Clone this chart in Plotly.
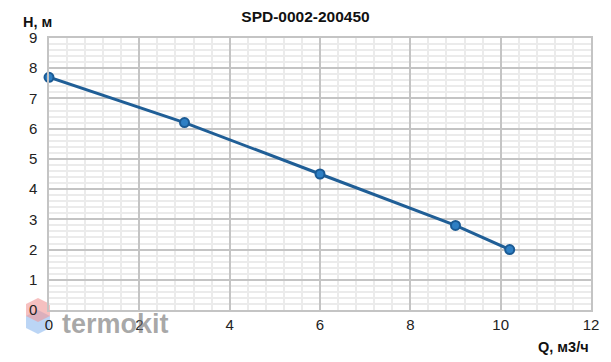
import plotly.graph_objects as go

title = "SPD-0002-200450"
q = [0, 3, 6, 9, 10.2]
h = [7.7, 6.2, 4.5, 2.8, 2.0]
x_ticks = [0, 2, 4, 6, 8, 10, 12]
y_ticks = [0, 1, 2, 3, 4, 5, 6, 7, 8, 9]

FONT = "Liberation Sans, Arial"

fig = go.Figure()
fig.add_trace(go.Scatter(
    x=q, y=h, mode="lines+markers",
    line=dict(color="#1f5e96", width=3),
    marker=dict(size=9, color="#2e7fc4", line=dict(color="#1a5a94", width=2)),
    showlegend=False, cliponaxis=False,
))

fig.update_xaxes(
    range=[0, 12], tickvals=x_ticks, showgrid=True, gridcolor="#c4c4c4", gridwidth=1.5,
    minor=dict(dtick=0.4, showgrid=True, gridcolor="#ebebeb", gridwidth=1.5),
    showline=True, linecolor="#c4c4c4", linewidth=1.5, mirror=True,
    zeroline=False, ticks="", tickfont=dict(family=FONT, size=15, color="#222"),
)
fig.update_yaxes(
    range=[0, 9], tickvals=y_ticks, showgrid=True, gridcolor="#c4c4c4", gridwidth=1.5,
    minor=dict(dtick=0.2, showgrid=True, gridcolor="#ebebeb", gridwidth=1.5),
    showline=True, linecolor="#c4c4c4", linewidth=1.5, mirror=True,
    zeroline=False, ticks="", ticklabelstandoff=7,
    tickfont=dict(family=FONT, size=15, color="#222"),
)

fig.update_layout(
    width=611, height=362,
    margin=dict(l=49, r=20, t=38, b=52),
    paper_bgcolor="white", plot_bgcolor="white",
    title=dict(text="<b>" + title + "</b>", x=0.5, xanchor="center", y=0.953, yanchor="middle",
               font=dict(family=FONT, size=15.5, color="#111")),
    annotations=[
        dict(text="<b>H, м</b>", xref="paper", yref="paper", x=-0.052, y=1.058,
             xanchor="left", yanchor="middle", showarrow=False,
             font=dict(family=FONT, size=14.5, color="#111")),
        dict(text="<b>Q, м3/ч</b>", xref="paper", yref="paper", x=1.0, y=-0.136,
             xanchor="right", yanchor="middle", showarrow=False,
             font=dict(family=FONT, size=14.5, color="#111")),
        dict(text="<b>termokit</b>", xref="paper", yref="paper", x=0.02, y=-0.05,
             xanchor="left", yanchor="middle", showarrow=False,
             font=dict(family=FONT, size=27, color="rgba(110,110,110,0.6)")),
    ],
)

# hexagon logo (decoration)
pw, ph = 611 - 49 - 20, 362 - 38 - 52
def px(xp, yp):
    return (xp - 49) / pw, (310 - yp) / ph
def poly(pts):
    s = ""
    for i, (a, b) in enumerate(pts):
        X, Y = px(a, b)
        s += ("M " if i == 0 else " L ") + f"{X:.4f} {Y:.4f}"
    return s + " Z"
top = [(38, 298), (50, 304), (50, 316), (38, 322), (26, 316), (26, 304)]
bot = [(38, 310), (50, 316), (50, 328), (38, 334), (26, 328), (26, 316)]
fig.add_shape(type="path", xref="paper", yref="paper", path=poly(bot),
              fillcolor="rgba(150,190,240,0.65)", line=dict(width=0), layer="below")
fig.add_shape(type="path", xref="paper", yref="paper", path=poly(top),
              fillcolor="rgba(240,150,150,0.6)", line=dict(width=0), layer="below")

fig.write_html("out.html")
